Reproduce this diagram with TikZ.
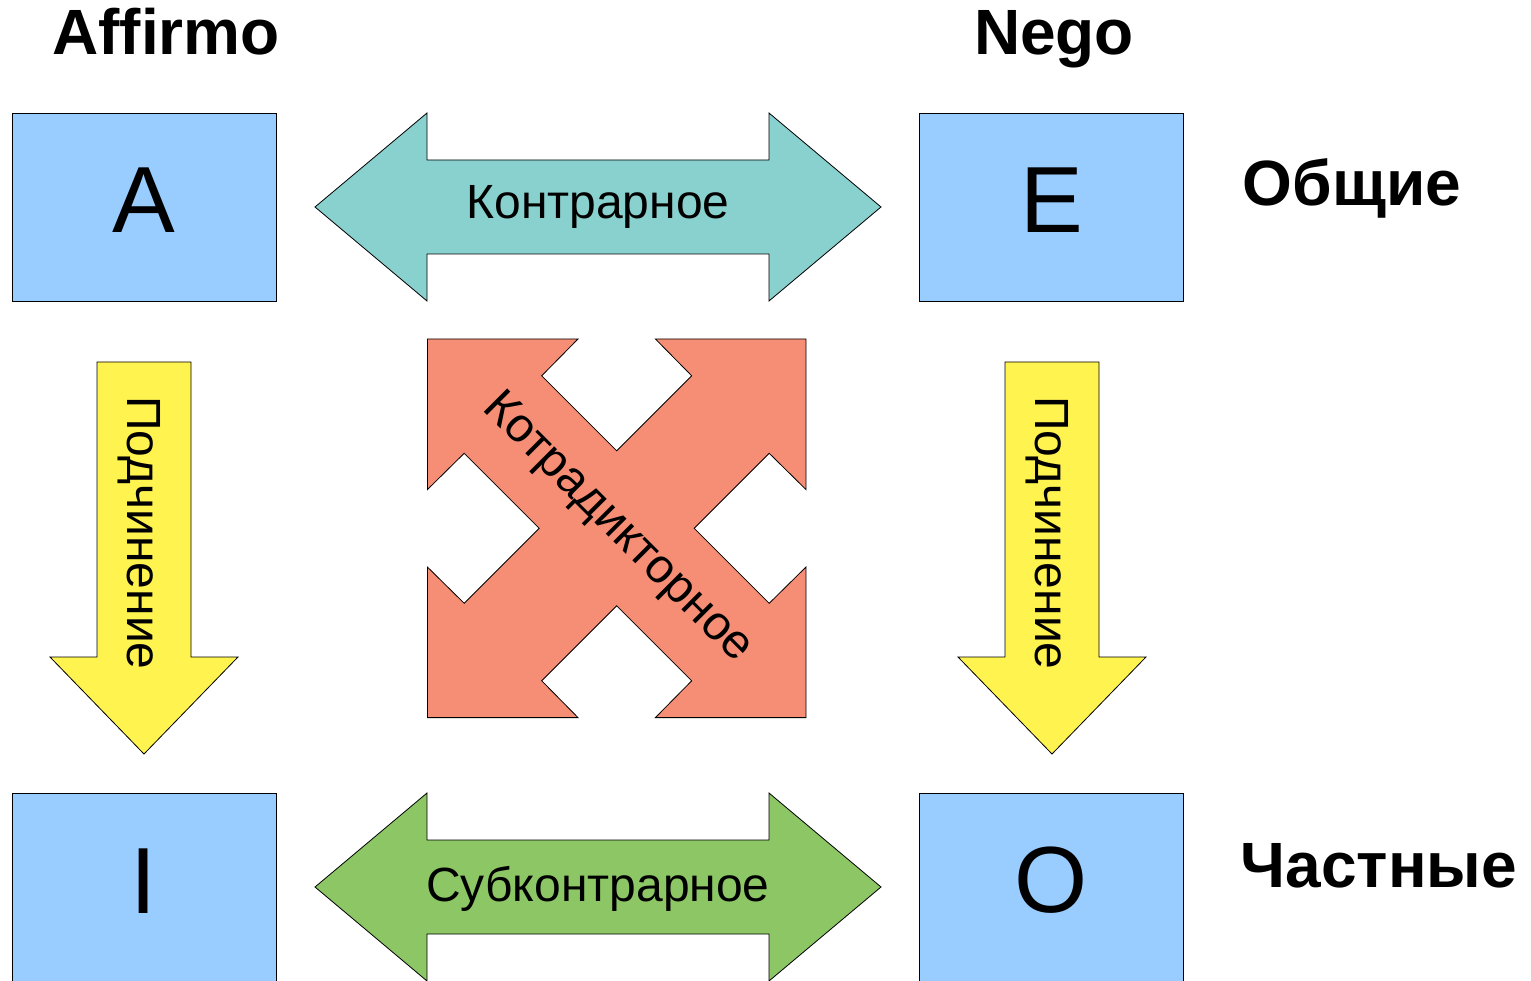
\documentclass[tikz,border=0pt]{standalone}
\usepackage{fontspec}
\setmainfont{Liberation Sans}
\definecolor{boxblue}{HTML}{99CCFF}
\definecolor{contrteal}{HTML}{88D1CE}
\definecolor{subgreen}{HTML}{8CC665}
\definecolor{subyellow}{HTML}{FFF350}
\definecolor{crossred}{HTML}{F68E76}
\begin{document}
\begin{tikzpicture}[x=1pt,y=-1pt,
  box/.style={draw=black, line width=0.8pt, fill=boxblue, minimum width=264pt, minimum height=188pt, inner sep=0pt},
  letter/.style={font=\fontsize{94}{100}\selectfont, inner sep=0pt, anchor=base},
  head/.style={font=\fontsize{64}{70}\selectfont\bfseries, inner sep=0pt, anchor=base},
  lbl/.style={font=\fontsize{48}{53}\selectfont, inner sep=0pt},
  arrowshape/.style={draw=black, line width=0.8pt}]
\useasboundingbox (0,0) rectangle (1531,981);

% the four judgement boxes
\node[box] (A) at (144,207) {};
\node[box] (E) at (1051,207) {};
\node[box, minimum height=198pt] (I) at (144,892) {};
\node[box, minimum height=198pt] (O) at (1051,892) {};
\node[letter] (la) at (144,233) {A};
\node[letter] (le) at (1052,233) {E};
\node[letter] (li) at (144,913) {I};
\node[letter] (lo) at (1051,912) {O};

% double arrows between the columns
\path[arrowshape, fill=contrteal]
  (315,207) -- (427,113) -- (427,160) -- (769,160) -- (769,113) -- (881,207)
  -- (769,301) -- (769,254) -- (427,254) -- (427,301) -- cycle;
\path[arrowshape, fill=subgreen]
  (315,887) -- (427,793) -- (427,840) -- (769,840) -- (769,793) -- (881,887)
  -- (769,981) -- (769,934) -- (427,934) -- (427,981) -- cycle;

% subordination arrows
\path[arrowshape, fill=subyellow]
  (97,362) -- (191,362) -- (191,657) -- (238,657) -- (144,754) -- (50,657) -- (97,657) -- cycle;
\path[arrowshape, fill=subyellow]
  (1005,362) -- (1099,362) -- (1099,657) -- (1146,657) -- (1052,754) -- (958,657) -- (1005,657) -- cycle;

% crossed four-headed arrow
\begin{scope}[shift={(616.7,528.3)}]
\def\ca{189.3}\def\cb{38.7}\def\cc{75}\def\cd{152.5}\def\ce{77.5}
\path[arrowshape, fill=crossred]
  (-\ca,-\ca) -- (-\cb,-\ca) -- (-\cc,-\cd) -- (0,-\ce) -- (\cc,-\cd) -- (\cb,-\ca)
  -- (\ca,-\ca) -- (\ca,-\cb) -- (\cd,-\cc) -- (\ce,0) -- (\cd,\cc) -- (\ca,\cb)
  -- (\ca,\ca) -- (\cb,\ca) -- (\cc,\cd) -- (0,\ce) -- (-\cc,\cd) -- (-\cb,\ca)
  -- (-\ca,\ca) -- (-\ca,\cb) -- (-\cd,\cc) -- (-\ce,0) -- (-\cd,-\cc) -- (-\ca,-\cb) -- cycle;
\end{scope}

% relation labels
\node[lbl, anchor=base] (contr) at (598,219) {Контрарное};
\node[lbl, anchor=base] (subc) at (598,901) {Субконтрарное};
\node[lbl, anchor=base, rotate=-90] (sub1) at (127,533) {Подчинение};
\node[lbl, anchor=base, rotate=-90] (sub2) at (1035,533) {Подчинение};
\node[lbl, rotate=-45] (contrad) at (616.7,528.3) {Котрадикторное};

% headings
\node[head] (aff) at (166,55) {Affirmo};
\node[head] (neg) at (1054,55) {Nego};
\node[head] (obs) at (1352,206) {Общие};
\node[head] (chast) at (1379,887) {Частные};
\end{tikzpicture}
\end{document}
